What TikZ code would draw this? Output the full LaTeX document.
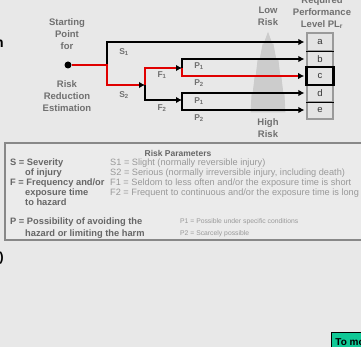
\documentclass[tikz,border=0pt]{standalone}
\usepackage{fontspec}
\setmainfont{Liberation Sans}
\usetikzlibrary{arrows.meta}
\definecolor{bgc}{HTML}{E8E8E8}
\definecolor{lblc}{HTML}{707070}
\definecolor{rlc}{HTML}{E00000}
\definecolor{framec}{HTML}{888888}
\definecolor{cellb}{HTML}{9A9A9A}
\definecolor{cellf}{HTML}{E4E4E4}
\definecolor{tabf}{HTML}{EBEBEB}
\definecolor{tealc}{HTML}{10C896}
\begin{document}
\begin{tikzpicture}[x=1pt,y=-1pt,
  dlbl/.style={font=\fontsize{9.5}{12}\selectfont\bfseries, text=lblc, align=center, inner sep=0pt},
  plbl/.style={font=\fontsize{8.5}{9}\selectfont\bfseries, text=lblc, inner sep=0pt},
  blk/.style={line width=1.8pt, draw=black},
  rl/.style={line width=1.8pt, draw=rlc},
  tip/.style={-{Latex[length=6pt,width=6.5pt,black]}},
  cell/.style={draw=cellb, line width=1.2pt, fill=cellf, minimum width=26pt, minimum height=17pt, inner sep=0pt, font=\fontsize{9.5}{9}\selectfont, text=black!80},
  lcol/.style={font=\fontsize{9.3}{10}\selectfont\bfseries, text=black!60, anchor=west, inner sep=0pt},
  rcol/.style={font=\fontsize{9.2}{10}\selectfont, text=black!40, anchor=west, inner sep=0pt},
  pcol/.style={font=\fontsize{6.8}{8}\selectfont, text=black!40, anchor=west, inner sep=0pt},
]
\path[use as bounding box, fill=bgc] (0,0) rectangle (361,347);

% page fragments
\node[font=\fontsize{14}{14}\selectfont\bfseries, anchor=east, inner sep=0pt] (frag1) at (4,44) {n};
\node[font=\fontsize{13}{13}\selectfont\bfseries, anchor=east, inner sep=0pt] (frag2) at (4,258) {)};
\node[draw=black, line width=0.8pt, fill=tealc, anchor=north west, minimum height=20pt, inner xsep=4pt, font=\fontsize{10}{10}\selectfont\bfseries] (more) at (331,332) {To more};

% labels
\node[dlbl] (startlbl) at (67,34.5) {Starting\\Point\\for};
\node[dlbl] (risklbl) at (67,96) {Risk\\Reduction\\Estimation};
\node[dlbl] (lowlbl) at (268,16) {Low\\Risk};
\node[dlbl] (highlbl) at (268,128) {High\\Risk};
\node[dlbl] (reqlbl) at (322,13) {Required\\Performance\\Level PL$_\mathbf{r}$};

% risk triangle
\path[fill=black!20, draw=white!80!black, line width=0.8pt]
  (268,33) -- (272,44) -- (273,44) -- (276,60) -- (278,60) -- (280,77) -- (281,77) -- (283,94) -- (284,94) -- (285,112)
  -- (251,112) -- (252,94) -- (253,94) -- (255,77) -- (256,77) -- (258,60) -- (260,60) -- (263,44) -- (264,44) -- cycle;

% PL cells
\node[cell] (a) at (320,42) {a};
\node[cell] (b) at (320,59) {b};
\node[cell, draw=black, line width=1.6pt] (c) at (320,76) {c};
\node[cell] (d) at (320,93) {d};
\node[cell] (e) at (320,110) {e};
\draw[draw=cellb, line width=1.5pt] (a.north west) rectangle (e.south east);
\draw[black, line width=0.9pt] (a.south west) -- (a.south east);
\draw[black, line width=0.9pt] (d.south west) -- (d.south east);
\draw[black, line width=1.6pt] (c.north west) rectangle (c.south east);

% start point and junctions
\node[circle, fill=black, inner sep=0pt, minimum size=7pt] (start) at (68,65) {};
\coordinate (j1) at (107,65);
\coordinate (s2c) at (107,85);
\coordinate (fj) at (145,85);
\coordinate (f1c) at (145,68);
\coordinate (pj1) at (182,68);
\coordinate (pj2) at (182,100);
\coordinate (p12) at (182,76);

% black paths
\draw[blk, tip, shorten >=2pt] (j1) |- (a.west);
\draw[blk, tip, shorten >=2pt] (pj1) |- (b.west);
\draw[blk, tip] (fj) |- (pj2);
\draw[blk, tip, shorten >=2pt] (pj2) |- (d.west);
\draw[blk, tip, shorten >=2pt] (pj2) |- (e.west);

% red path
\draw[rl, tip] (start) -- (j1) -- (s2c) -- (fj);
\draw[rl, tip] (fj) -- (f1c) -- (pj1);
\draw[rl, tip, shorten >=2pt] (pj1) -- (p12) -- (c.west);

% branch labels
\node[plbl] (s1l) at (124,52) {S$_\mathbf{1}$};
\node[plbl] (s2l) at (124,95) {S$_\mathbf{2}$};
\node[plbl] (f1l) at (162,75) {F$_\mathbf{1}$};
\node[plbl] (f2l) at (162,108) {F$_\mathbf{2}$};
\node[plbl] (p1a) at (199,66) {P$_\mathbf{1}$};
\node[plbl] (p2a) at (199,83) {P$_\mathbf{2}$};
\node[plbl] (p1b) at (199,101) {P$_\mathbf{1}$};
\node[plbl] (p2b) at (199,118) {P$_\mathbf{2}$};

% parameter table
\path[draw=framec, line width=1.6pt, fill=tabf] (5,143) rectangle (372,240);
\node[font=\fontsize{8.5}{10}\selectfont\bfseries, text=black!60, inner sep=0pt] (hdr) at (178,153) {Risk Parameters};
\node[lcol] (sdef) at (10,163) {S = Severity};
\node[lcol] (sdef2) at (25,173) {of injury};
\node[lcol] (fdef) at (10,183) {F = Frequency and/or};
\node[lcol] (fdef2) at (25,193) {exposure time};
\node[lcol] (fdef3) at (25,202) {to hazard};
\node[lcol] (pdef) at (10,222) {P = Possibility of avoiding the};
\node[lcol] (pdef2) at (25,234) {hazard or limiting the harm};
\node[rcol] (s1d) at (110,163) {S1 = Slight (normally reversible injury)};
\node[rcol] (s2d) at (110,173) {S2 = Serious (normally irreversible injury, including death)};
\node[rcol] (f1d) at (110,183) {F1 = Seldom to less often and/or the exposure time is short};
\node[rcol] (f2d) at (110,193) {F2 = Frequent to continuous and/or the exposure time is long};
\node[pcol] (p1d) at (180,222) {P1 = Possible under specific conditions};
\node[pcol] (p2d) at (180,234) {P2 = Scarcely possible};
\end{tikzpicture}
\end{document}
